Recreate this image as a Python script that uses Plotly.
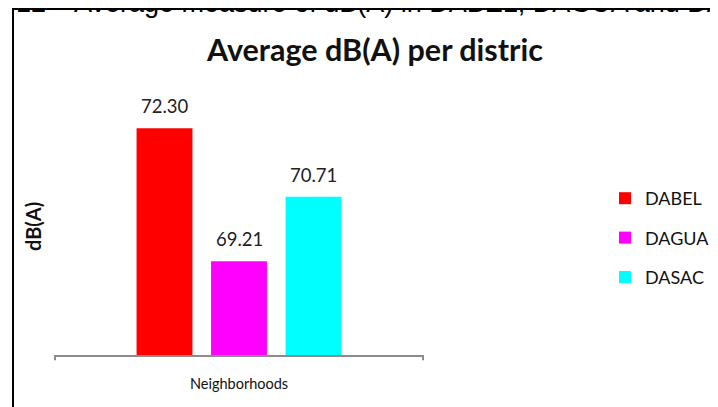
import plotly.graph_objects as go

districts = ["DABEL", "DAGUA", "DASAC"]
values = [72.30, 69.21, 70.71]
colors = ["#FF0000", "#FF00FF", "#00FFFF"]
axis_label = "Neighborhoods"

positions = list(range(len(districts)))

# page has an 8px body margin, so figure pixel = page pixel - 8
W, H = 718, 407
L, R, T, B = 47, 303, 82, 60
PW, PH = W - L - R, H - T - B


def px(x):
    return (x - 8 - L) / PW


def py(y):
    return (H - B - (y - 8)) / PH


fig = go.Figure()
for pos, name, val, col in zip(positions, districts, values, colors):
    fig.add_trace(go.Bar(
        name=name,
        x=[pos],
        y=[val],
        width=0.75,
        marker=dict(color=col, line=dict(width=0)),
        legendgroup=name,
    ))
    fig.add_annotation(x=pos, y=val, text=f"{val:.2f}", yanchor="bottom", yshift=9,
                       showarrow=False, font=dict(size=18.5, family="Lato", color="#222222"))

fig.update_layout(
    width=W, height=H,
    margin=dict(l=L, r=R, t=T, b=B, autoexpand=False),
    paper_bgcolor="white", plot_bgcolor="white",
    font=dict(family="Lato", color="#111111"),
    title=dict(text="<b>Average dB(A) per distric</b>", x=(375 - 8) / W, xanchor="center",
               y=1 - (50 - 8) / H, yanchor="middle", font=dict(size=30.5, family="Lato", color="#111111")),
    showlegend=True,
    legend=dict(x=px(605), xanchor="left", y=py(180), yanchor="top", tracegroupgap=13,
                font=dict(size=18, family="Lato", color="#111111"), bgcolor="rgba(0,0,0,0)"),
    xaxis=dict(range=[-1.47, 3.47], showline=True, linecolor="#8c8c8c", linewidth=2, ticks="",
               showgrid=False, zeroline=False, tickvals=[1], ticktext=[axis_label],
               tickfont=dict(size=14.5, family="Lato", color="#111111"), ticklabelstandoff=15,
               automargin=False),
    yaxis=dict(range=[67.03, 73.19], showticklabels=False, showgrid=False,
               zeroline=False, showline=False, ticks="", automargin=False),
)

# y-axis title
fig.add_annotation(text="<b>dB(A)</b>", xref="paper", yref="paper", x=px(33), y=py(227),
                   textangle=-90, showarrow=False, xanchor="center", yanchor="middle",
                   font=dict(size=20, family="Lato", color="#111111"))

# end ticks of the category axis
for xp in [0, 1]:
    fig.add_shape(type="line", xref="paper", yref="paper", x0=xp, x1=xp, y0=0, y1=-0.02,
                  line=dict(color="#8c8c8c", width=2))

# chart frame
fig.add_shape(type="rect", xref="paper", yref="paper", x0=px(13), x1=px(760),
              y0=py(9), y1=py(450), line=dict(color="black", width=2))

# cut-off caption at the top
fig.add_annotation(text="Average measure of dB(A) in DABEL, DAGUA and DASAC", xref="paper", yref="paper",
                   x=px(72), y=py(3), xanchor="left", yanchor="middle", showarrow=False,
                   font=dict(size=27, family="Liberation Sans", color="black"))
fig.add_annotation(text="Graph. 12 - ", xref="paper", yref="paper",
                   x=px(72), y=py(3), xanchor="right", yanchor="middle", showarrow=False,
                   font=dict(size=27, family="Liberation Sans", color="black"))

fig.write_html("out.html")
